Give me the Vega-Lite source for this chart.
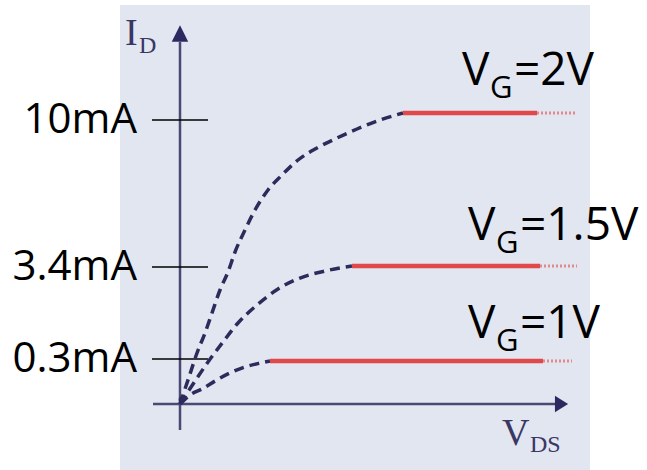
{
  "$schema": "https://vega.github.io/schema/vega-lite/v6.json",
  "width": 470,
  "height": 465,
  "autosize": "none",
  "padding": {"left": 120, "top": 5, "right": 57, "bottom": 0},
  "background": "white",
  "config": {"view": {"fill": "#e2e6f0", "stroke": null}},
  "datasets": {
    "curves": [
      {"vg": "2V", "x": 0, "y": 0},
      {"vg": "2V", "x": 0.225, "y": 0.18},
      {"vg": "2V", "x": 0.425, "y": 0.502},
      {"vg": "2V", "x": 0.625, "y": 1.176},
      {"vg": "2V", "x": 0.8, "y": 1.85},
      {"vg": "2V", "x": 1.0, "y": 2.625},
      {"vg": "2V", "x": 1.2, "y": 3.232},
      {"vg": "2V", "x": 1.375, "y": 4.073},
      {"vg": "2V", "x": 1.625, "y": 5.061},
      {"vg": "2V", "x": 1.875, "y": 5.959},
      {"vg": "2V", "x": 2.2, "y": 6.857},
      {"vg": "2V", "x": 2.55, "y": 7.531},
      {"vg": "2V", "x": 2.95, "y": 8.204},
      {"vg": "2V", "x": 3.425, "y": 8.743},
      {"vg": "2V", "x": 3.925, "y": 9.192},
      {"vg": "2V", "x": 4.425, "y": 9.596},
      {"vg": "2V", "x": 5.0, "y": 10.0},
      {"vg": "2V", "x": 5.575, "y": 10.295},
      {"vg": "1.5V", "x": 0, "y": 0},
      {"vg": "1.5V", "x": 0.425, "y": 0.173},
      {"vg": "1.5V", "x": 0.7, "y": 0.28},
      {"vg": "1.5V", "x": 1.075, "y": 0.873},
      {"vg": "1.5V", "x": 1.45, "y": 1.513},
      {"vg": "1.5V", "x": 1.925, "y": 2.12},
      {"vg": "1.5V", "x": 2.45, "y": 2.659},
      {"vg": "1.5V", "x": 3.0, "y": 3.029},
      {"vg": "1.5V", "x": 3.625, "y": 3.265},
      {"vg": "1.5V", "x": 4.3, "y": 3.445},
      {"vg": "1V", "x": 0, "y": 0},
      {"vg": "1V", "x": 0.25, "y": 0.06},
      {"vg": "1V", "x": 0.55, "y": 0.1},
      {"vg": "1V", "x": 0.875, "y": 0.153},
      {"vg": "1V", "x": 1.25, "y": 0.207},
      {"vg": "1V", "x": 1.625, "y": 0.247},
      {"vg": "1V", "x": 2.0, "y": 0.273},
      {"vg": "1V", "x": 2.25, "y": 0.287}
    ],
    "saturation": [
      {"vg": "2V", "x": 5.575, "x2": 8.925, "y": 10.295},
      {"vg": "1.5V", "x": 4.3, "x2": 9.0, "y": 3.445},
      {"vg": "1V", "x": 2.25, "x2": 9.075, "y": 0.287}
    ],
    "tails": [
      {"vg": "2V", "x": 8.925, "x2": 9.925, "y": 10.295},
      {"vg": "1.5V", "x": 9.0, "x2": 9.925, "y": 3.445},
      {"vg": "1V", "x": 9.075, "x2": 9.8, "y": 0.287}
    ],
    "axisLines": [
      {"axis": "VDS", "x": -0.675, "x2": 9.375, "y": 0, "y2": 0},
      {"axis": "ID", "x": 0, "x2": 0, "y": -0.59, "y2": 13.284}
    ],
    "arrowHeads": [
      {"dir": "up", "x": 0, "y": 13.642},
      {"dir": "right", "x": 9.5375, "y": 0}
    ],
    "currentTicks": [
      {"x": 0, "y": 10, "label": "10mA"},
      {"x": 0, "y": 3.4, "label": "3.4mA"},
      {"x": 0, "y": 0.3, "label": "0.3mA"}
    ],
    "gateLabels": [
      {"rest": "=2V", "x": 7.05, "y": 11.474},
      {"rest": "=1.5V", "x": 7.2, "y": 4.612},
      {"rest": "=1V", "x": 7.2, "y": 1.008}
    ],
    "axisNames": [
      {"main": "I", "x": -1.375, "y": 13.158},
      {"main": "V", "x": 8.05, "y": -0.932}
    ]
  },
  "encoding": {
    "x": {
      "field": "x",
      "type": "quantitative",
      "scale": {"domain": [-1.5, 10.25], "nice": false, "zero": false},
      "axis": null
    },
    "y": {
      "field": "y",
      "type": "quantitative",
      "scale": {
        "domain": [-1.5, 0, 0.3, 3.4, 10, 14],
        "range": [465, 399, 354, 262, 115, 20],
        "nice": false,
        "zero": false
      },
      "axis": null
    }
  },
  "layer": [
    {
      "data": {"name": "axisLines"},
      "mark": {"type": "rule", "color": "#4a4874", "strokeWidth": 2.5},
      "encoding": {"x2": {"field": "x2"}, "y2": {"field": "y2"}}
    },
    {
      "data": {"name": "arrowHeads"},
      "mark": {"type": "point", "filled": true, "opacity": 1, "color": "#2c2860", "size": 270},
      "encoding": {
        "shape": {
          "field": "dir",
          "type": "nominal",
          "scale": {"domain": ["up", "right"], "range": ["M0,-1L-1,1L1,1Z", "M-0.8,-1L0.8,0L-0.8,1Z"]},
          "legend": null
        }
      }
    },
    {
      "data": {"name": "currentTicks"},
      "mark": {"type": "tick", "orient": "horizontal", "color": "black", "size": 56, "thickness": 1.4, "opacity": 1}
    },
    {
      "data": {"name": "currentTicks"},
      "mark": {"type": "text", "font": "Open Sans", "fontSize": 42, "align": "right", "baseline": "middle", "color": "black", "dx": -43},
      "encoding": {"text": {"field": "label"}}
    },
    {
      "data": {"name": "curves"},
      "mark": {"type": "line", "interpolate": "monotone", "color": "#2e2b5c", "strokeWidth": 3.5, "strokeDash": [10, 6]},
      "encoding": {"detail": {"field": "vg"}}
    },
    {
      "data": {"name": "saturation"},
      "mark": {"type": "rule", "color": "#df3b3b", "strokeWidth": 4.5, "opacity": 0.92},
      "encoding": {"x2": {"field": "x2"}}
    },
    {
      "data": {"name": "tails"},
      "mark": {"type": "rule", "color": "#e06a6a", "strokeWidth": 3, "strokeDash": [2, 2], "opacity": 0.75},
      "encoding": {"x2": {"field": "x2"}}
    },
    {
      "data": {"values": [{"x": 0.05, "y": 0.03}]},
      "mark": {"type": "point", "filled": true, "opacity": 1, "color": "#2c2860", "size": 45}
    },
    {
      "data": {"name": "gateLabels"},
      "mark": {"type": "text", "font": "Open Sans", "fontSize": 46, "align": "left", "baseline": "alphabetic", "color": "black"},
      "encoding": {"text": {"value": "V"}}
    },
    {
      "data": {"name": "gateLabels"},
      "mark": {"type": "text", "font": "Open Sans", "fontSize": 31, "align": "left", "baseline": "alphabetic", "color": "black", "dx": 28, "dy": 13},
      "encoding": {"text": {"value": "G"}}
    },
    {
      "data": {"name": "gateLabels"},
      "mark": {"type": "text", "font": "Open Sans", "fontSize": 46, "align": "left", "baseline": "alphabetic", "color": "black", "dx": 52},
      "encoding": {"text": {"field": "rest"}}
    },
    {
      "data": {"name": "axisNames"},
      "mark": {"type": "text", "font": "Liberation Serif", "fontSize": 38, "align": "left", "baseline": "alphabetic", "color": "#3a3765"},
      "encoding": {"text": {"field": "main"}}
    },
    {
      "data": {"values": [{"sub": "D", "x": -1.025, "y": 12.821}, {"sub": "DS", "x": 8.75, "y": -1.091}]},
      "mark": {"type": "text", "font": "Liberation Serif", "fontSize": 24, "align": "left", "baseline": "alphabetic", "color": "#3a3765"},
      "encoding": {"text": {"field": "sub"}}
    }
  ]
}
